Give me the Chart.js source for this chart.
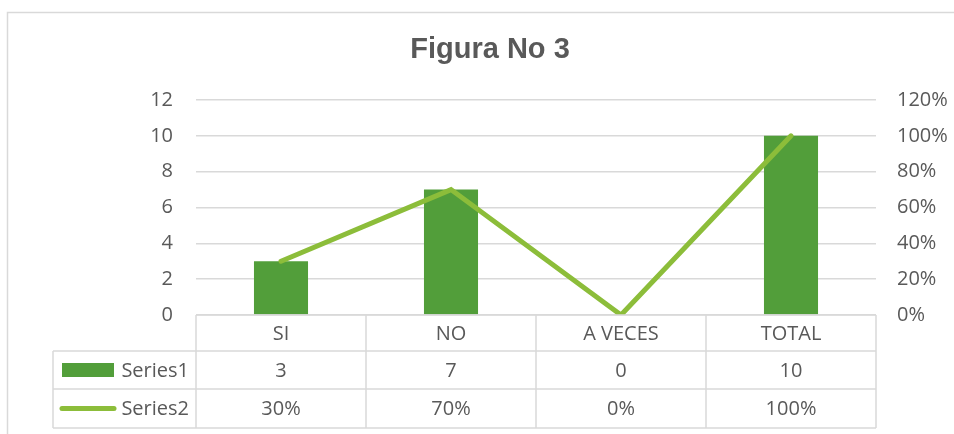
<!DOCTYPE html>
<html><head><meta charset="utf-8">
<script src="https://cdn.jsdelivr.net/npm/chart.js@4"></script>
<style>html,body{margin:0;padding:0;background:#fff}#wrap{width:954px;height:434px;position:relative}</style>
</head><body><div id="wrap"><canvas id="c" width="954" height="434"></canvas></div>
<script>
const categories = ['SI', 'NO', 'A VECES', 'TOTAL'];
const series1 = [3, 7, 0, 10];
const series2 = [0.30, 0.70, 0, 1.00];
const seriesNames = ['Series1', 'Series2'];
const leftTicks = [0, 2, 4, 6, 8, 10, 12];
const rightTicks = [0, 0.2, 0.4, 0.6, 0.8, 1.0, 1.2];
const titleText = 'Figura No 3';

const BAR = '#529E3A';
const LINE = '#8CBD3A';
const GRID = '#D9D9D9';
const TEXT = '#595959';
const FONT = '"Open Sans", sans-serif';
const pct = v => Math.round(v * 100) + '%';

const frame = {
  id: 'frame',
  beforeDraw(chart) {
    const ctx = chart.ctx;
    ctx.save();
    ctx.fillStyle = '#fff';
    ctx.fillRect(0, 0, chart.width, chart.height);
    ctx.strokeStyle = GRID;
    ctx.lineWidth = 1.5;
    ctx.beginPath();
    ctx.moveTo(7.5, chart.height + 5);
    ctx.lineTo(7.5, 12.5);
    ctx.lineTo(chart.width + 5, 12.5);
    ctx.stroke();
    ctx.font = 'bold 29px "Liberation Sans", Arial, sans-serif';
    ctx.fillStyle = TEXT;
    ctx.textAlign = 'center';
    ctx.textBaseline = 'alphabetic';
    ctx.fillText(titleText, 490, 58);
    ctx.restore();
  }
};

const table = {
  id: 'table',
  afterDraw(chart) {
    const ctx = chart.ctx;
    const x = chart.scales.x;
    const area = chart.chartArea;
    const half = (x.getPixelForValue(1) - x.getPixelForValue(0)) / 2;
    const colL = x.getPixelForValue(0) - half;
    const colR = x.getPixelForValue(categories.length - 1) + half;
    const rowH = [36, 38, 39];
    const y0 = area.bottom;
    const y1 = y0 + rowH[0], y2 = y1 + rowH[1], y3 = y2 + rowH[2];
    const legL = 53;
    ctx.save();
    ctx.strokeStyle = GRID;
    ctx.lineWidth = 1.5;
    ctx.beginPath();
    ctx.moveTo(colL, y0); ctx.lineTo(colR, y0);
    ctx.moveTo(legL, y1); ctx.lineTo(colR, y1);
    ctx.moveTo(legL, y2); ctx.lineTo(colR, y2);
    ctx.moveTo(legL, y3); ctx.lineTo(colR, y3);
    ctx.moveTo(legL, y1); ctx.lineTo(legL, y3);
    for (let i = 0; i <= categories.length; i++) {
      const cx = colL + i * half * 2;
      ctx.moveTo(cx, y0); ctx.lineTo(cx, y3);
    }
    ctx.stroke();

    ctx.font = '20px ' + FONT;
    ctx.fillStyle = TEXT;
    ctx.textAlign = 'center';
    ctx.textBaseline = 'middle';
    categories.forEach((c, i) => {
      const cx = x.getPixelForValue(i);
      ctx.fillText(c, cx, (y0 + y1) / 2 + 1);
      ctx.fillText(String(series1[i]), cx, (y1 + y2) / 2 + 1);
      ctx.fillText(pct(series2[i]), cx, (y2 + y3) / 2 + 1);
    });
    ctx.textAlign = 'right';
    ctx.fillText(seriesNames[0], 189, (y1 + y2) / 2 + 1);
    ctx.fillText(seriesNames[1], 189, (y2 + y3) / 2 + 1);
    // legend keys
    ctx.fillStyle = BAR;
    ctx.fillRect(62, (y1 + y2) / 2 - 7, 52, 14);
    ctx.strokeStyle = LINE;
    ctx.lineWidth = 5;
    ctx.lineCap = 'round';
    ctx.beginPath();
    ctx.moveTo(62, (y2 + y3) / 2);
    ctx.lineTo(114, (y2 + y3) / 2);
    ctx.stroke();
    ctx.restore();
  }
};

new Chart(document.getElementById('c'), {
  data: {
    labels: categories,
    datasets: [
      {
        type: 'line', label: seriesNames[1], data: series2, yAxisID: 'y1',
        borderColor: LINE, borderWidth: 5, pointRadius: 0, order: 0,
        borderCapStyle: 'round', borderJoinStyle: 'miter', tension: 0
      },
      {
        type: 'bar', label: seriesNames[0], data: series1, yAxisID: 'y',
        backgroundColor: BAR, barPercentage: 0.318, categoryPercentage: 1, order: 1
      }
    ]
  },
  plugins: [frame, table],
  options: {
    responsive: false,
    animation: false,
    devicePixelRatio: 1,
    layout: { padding: { top: 100, bottom: 119, left: 0, right: 0 } },
    plugins: { legend: { display: false }, tooltip: { enabled: false }, title: { display: false } },
    scales: {
      x: { display: false, offset: true },
      y: {
        position: 'left', min: 0, max: 12,
        afterBuildTicks: s => { s.ticks = leftTicks.map(v => ({ value: v })); },
        afterFit: s => { s.width = 196; },
        grid: { color: GRID, lineWidth: 1.5, drawTicks: false },
        border: { display: false },
        ticks: { padding: 23, color: TEXT, font: { family: FONT, size: 20 } }
      },
      y1: {
        position: 'right', min: 0, max: 1.2,
        afterBuildTicks: s => { s.ticks = rightTicks.map(v => ({ value: v })); },
        afterFit: s => { s.width = 78; },
        grid: { display: false, drawTicks: false },
        border: { display: false },
        ticks: { padding: 21, color: TEXT, font: { family: FONT, size: 20 }, callback: v => pct(v) }
      }
    }
  }
});
</script></body></html>
